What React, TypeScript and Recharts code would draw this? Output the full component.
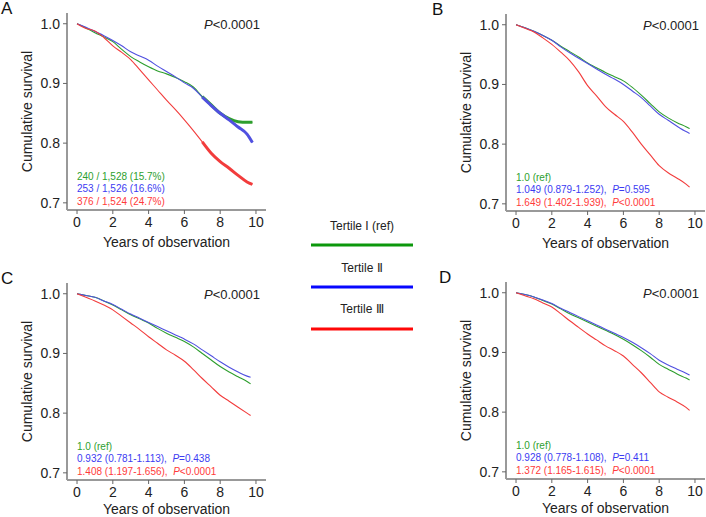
import React from 'react'
import { LineChart, Line, XAxis, YAxis } from 'recharts'

// years on study, per panel
const yearsA = [0, 0.5, 1, 1.5, 2, 2.5, 3, 3.5, 4, 4.5, 5, 5.5, 6, 6.5, 7, 7.5, 8, 8.5, 9, 9.5, 9.8]
const yearsBCD = [0, 0.5, 1, 1.5, 2, 2.5, 3, 3.5, 4, 4.5, 5, 5.5, 6, 6.5, 7, 7.5, 8, 8.5, 9, 9.5, 9.7]

// A
const greenA = [1.0, 0.993, 0.985, 0.978, 0.97, 0.957, 0.945, 0.936, 0.928, 0.921, 0.916, 0.91, 0.903, 0.894, 0.878, 0.864, 0.85, 0.841, 0.836, 0.835, 0.835]
const blueA = [1.0, 0.994, 0.987, 0.98, 0.972, 0.963, 0.953, 0.946, 0.939, 0.929, 0.92, 0.911, 0.901, 0.892, 0.877, 0.863, 0.85, 0.839, 0.827, 0.815, 0.801]
const redA = [1.0, 0.992, 0.988, 0.977, 0.963, 0.952, 0.94, 0.923, 0.906, 0.889, 0.872, 0.856, 0.839, 0.821, 0.802, 0.783, 0.769, 0.758, 0.746, 0.735, 0.731]

// B
const greenB = [1.0, 0.995, 0.989, 0.982, 0.974, 0.964, 0.955, 0.946, 0.936, 0.928, 0.92, 0.913, 0.906, 0.895, 0.882, 0.868, 0.854, 0.844, 0.836, 0.829, 0.826]
const blueB = [1.0, 0.995, 0.989, 0.982, 0.974, 0.963, 0.953, 0.944, 0.935, 0.926, 0.917, 0.909, 0.9, 0.889, 0.878, 0.864, 0.85, 0.84, 0.83, 0.821, 0.818]
const redB = [1.0, 0.994, 0.988, 0.978, 0.967, 0.954, 0.94, 0.921, 0.898, 0.881, 0.863, 0.85, 0.838, 0.82, 0.8, 0.782, 0.764, 0.752, 0.743, 0.733, 0.728]

// C
const greenC = [1.0, 0.997, 0.994, 0.988, 0.981, 0.973, 0.965, 0.958, 0.951, 0.942, 0.934, 0.927, 0.92, 0.911, 0.9, 0.889, 0.878, 0.869, 0.861, 0.853, 0.849]
const blueC = [1.0, 0.997, 0.994, 0.988, 0.982, 0.974, 0.966, 0.959, 0.952, 0.945, 0.938, 0.931, 0.924, 0.916, 0.906, 0.896, 0.886, 0.877, 0.869, 0.862, 0.86]
const redC = [1.0, 0.994, 0.988, 0.981, 0.973, 0.962, 0.951, 0.94, 0.928, 0.917, 0.906, 0.897, 0.887, 0.873, 0.858, 0.844, 0.83, 0.82, 0.81, 0.8, 0.796]

// D
const greenD = [1.0, 0.997, 0.993, 0.987, 0.981, 0.973, 0.965, 0.958, 0.951, 0.944, 0.937, 0.93, 0.922, 0.913, 0.903, 0.892, 0.88, 0.872, 0.864, 0.857, 0.854]
const blueD = [1.0, 0.997, 0.993, 0.988, 0.982, 0.974, 0.967, 0.96, 0.953, 0.946, 0.939, 0.932, 0.925, 0.917, 0.908, 0.898, 0.887, 0.879, 0.872, 0.865, 0.862]
const redD = [1.0, 0.995, 0.99, 0.983, 0.976, 0.965, 0.953, 0.942, 0.931, 0.921, 0.911, 0.903, 0.894, 0.88, 0.866, 0.85, 0.834, 0.825, 0.817, 0.808, 0.803]

const xTicks = [0, 2, 4, 6, 8, 10]
const yTicks = [0.7, 0.8, 0.9, 1.0]
const legendLabels = ['Tertile I (ref)', 'Tertile Ⅱ', 'Tertile Ⅲ']

const FONT = '"Liberation Sans", Arial, Helvetica, sans-serif'
const LINE = { g: '#2e9e2e', b: '#5050e0', r: '#f23c3c' }
const TXT = { g: '#2ea02e', b: '#3c3cf2', r: '#ff3a3a' }
const LEG = ['#0c980c', '#0808ff', '#ff0808']
const BOX = '#999999'
const frame = { stroke: BOX, strokeWidth: 2 }

const X_DOM: [number, number] = [-0.56, 10.56]
const Y_DOM: [number, number] = [0.688, 1.018]
const PW = 199
const PH = 197

function rows(years: number[], g: number[], b: number[], r: number[], censorFrom?: number) {
  return years.map((t, i) => ({
    t,
    g: g[i],
    b: b[i],
    r: r[i],
    gc: censorFrom != null && t >= censorFrom ? g[i] : null,
    bc: censorFrom != null && t >= censorFrom ? b[i] : null,
    rc: censorFrom != null && t >= censorFrom ? r[i] : null,
  }))
}

function Panel({ left, top, data, censor }: { left: number; top: number; data: any[]; censor?: boolean }) {
  return (
    <div style={{ position: 'absolute', left: left - 67, top: top - 13 }}>
      <LineChart width={268} height={260} data={data} margin={{ top: 13, right: 2, bottom: 10, left: 17 }}>
        {/* frame: top and right mirror axes, bottom and left axis lines */}
        <XAxis xAxisId="top" orientation="top" type="number" domain={X_DOM} height={0} tick={false} tickLine={false} axisLine={frame} />
        <YAxis yAxisId="right" orientation="right" type="number" domain={Y_DOM} width={0} tick={false} tickLine={false} axisLine={frame} />
        <XAxis
          dataKey="t"
          type="number"
          domain={X_DOM}
          allowDataOverflow
          ticks={xTicks}
          axisLine={frame}
          tickSize={4}
          tickMargin={3}
          height={40}
          tickLine={{ stroke: '#666' }}
          tick={{ fontSize: 14, fill: '#222', fontFamily: FONT }}
        />
        <YAxis
          type="number"
          domain={Y_DOM}
          allowDataOverflow
          ticks={yTicks}
          axisLine={frame}
          tickSize={4}
          tickMargin={3}
          width={50}
          tickFormatter={(v: number) => v.toFixed(1)}
          tickLine={{ stroke: '#666' }}
          tick={{ fontSize: 14, fill: '#222', fontFamily: FONT }}
        />
        <Line type="monotone" dataKey="g" stroke={LINE.g} strokeWidth={1.1} dot={false} isAnimationActive={false} />
        <Line type="monotone" dataKey="b" stroke={LINE.b} strokeWidth={1.1} dot={false} isAnimationActive={false} />
        <Line type="monotone" dataKey="r" stroke={LINE.r} strokeWidth={1.1} dot={false} isAnimationActive={false} />
        {censor && <Line type="monotone" dataKey="gc" stroke={LINE.g} strokeWidth={3} dot={false} isAnimationActive={false} />}
        {censor && <Line type="monotone" dataKey="bc" stroke={LINE.b} strokeWidth={3} dot={false} isAnimationActive={false} />}
        {censor && <Line type="monotone" dataKey="rc" stroke={LINE.r} strokeWidth={3} dot={false} isAnimationActive={false} />}
      </LineChart>
    </div>
  )
}

type Note = { color: string; parts: { s: string; it?: boolean }[] }

function PanelText({ left, top, letter, letterX, notes, titleDy = 37 }: { left: number; top: number; letter: string; letterX: number; notes: Note[]; titleDy?: number }) {
  const bottom = top + PH
  return (
    <g fontFamily={FONT}>
      <text x={letterX} y={top + 1} fontSize={17} fill="#111">{letter}</text>
      <text x={left + 193} y={top + 16} fontSize={13} fill="#222" textAnchor="end">
        <tspan fontStyle="italic">P</tspan>&lt;0.0001
      </text>
      {notes.map((n, i) => (
        <text key={i} x={left + 10} y={bottom - 30 + i * 12.4} fontSize={10} fill={n.color} xmlSpace="preserve">
          {n.parts.map((p, j) => (
            <tspan key={j} fontStyle={p.it ? 'italic' : 'normal'}>{p.s}</tspan>
          ))}
        </text>
      ))}
      <text x={left + PW / 2} y={bottom + titleDy} fontSize={14} fill="#222" textAnchor="middle">
        Years of observation
      </text>
      <text
        x={0}
        y={0}
        fontSize={14}
        fill="#222"
        textAnchor="middle"
        dominantBaseline="central"
        transform={`translate(${left - 40},${top + PH / 2}) rotate(-90)`}
      >
        Cumulative survival
      </text>
    </g>
  )
}

const dataA = rows(yearsA, greenA, blueA, redA, 7)
const dataB = rows(yearsBCD, greenB, blueB, redB)
const dataC = rows(yearsBCD, greenC, blueC, redC)
const dataD = rows(yearsBCD, greenD, blueD, redD)

const notesA: Note[] = [
  { color: TXT.g, parts: [{ s: '240 / 1,528 (15.7%)' }] },
  { color: TXT.b, parts: [{ s: '253 / 1,526 (16.6%)' }] },
  { color: TXT.r, parts: [{ s: '376 / 1,524 (24.7%)' }] },
]
const notesB: Note[] = [
  { color: TXT.g, parts: [{ s: '1.0 (ref)' }] },
  { color: TXT.b, parts: [{ s: '1.049 (0.879-1.252),  ' }, { s: 'P', it: true }, { s: '=0.595' }] },
  { color: TXT.r, parts: [{ s: '1.649 (1.402-1.939),  ' }, { s: 'P', it: true }, { s: '<0.0001' }] },
]
const notesC: Note[] = [
  { color: TXT.g, parts: [{ s: '1.0 (ref)' }] },
  { color: TXT.b, parts: [{ s: '0.932 (0.781-1.113),  ' }, { s: 'P', it: true }, { s: '=0.438' }] },
  { color: TXT.r, parts: [{ s: '1.408 (1.197-1.656),  ' }, { s: 'P', it: true }, { s: '<0.0001' }] },
]
const notesD: Note[] = [
  { color: TXT.g, parts: [{ s: '1.0 (ref)' }] },
  { color: TXT.b, parts: [{ s: '0.928 (0.778-1.108),  ' }, { s: 'P', it: true }, { s: '=0.411' }] },
  { color: TXT.r, parts: [{ s: '1.372 (1.165-1.615),  ' }, { s: 'P', it: true }, { s: '<0.0001' }] },
]

export default function App() {
  return (
    <div style={{ position: 'absolute', left: 0, top: 0, width: 706, height: 517, overflow: 'hidden', background: '#fff' }}>
      <Panel left={67} top={13} data={dataA} censor />
      <Panel left={506} top={14} data={dataB} />
      <Panel left={67} top={283} data={dataC} />
      <Panel left={506} top={282} data={dataD} />
      <svg width={706} height={517} style={{ position: 'absolute', left: 0, top: 0, pointerEvents: 'none' }}>
        <PanelText left={67} top={13} letter="A" letterX={1} notes={notesA} />
        <PanelText left={506} top={14} letter="B" letterX={432} notes={notesB} />
        <PanelText left={67} top={283} letter="C" letterX={1} notes={notesC} titleDy={34} />
        <PanelText left={506} top={282} letter="D" letterX={439} notes={notesD} titleDy={34} />
        <g fontFamily={FONT} fontSize={12} fill="#222" textAnchor="middle">
          {legendLabels.map((l, i) => (
            <g key={l}>
              <text x={362} y={230 + i * 41.5}>{l}</text>
              <line x1={311} x2={413} y1={245 + i * 42} y2={245 + i * 42} stroke={LEG[i]} strokeWidth={3} />
            </g>
          ))}
        </g>
      </svg>
    </div>
  )
}
